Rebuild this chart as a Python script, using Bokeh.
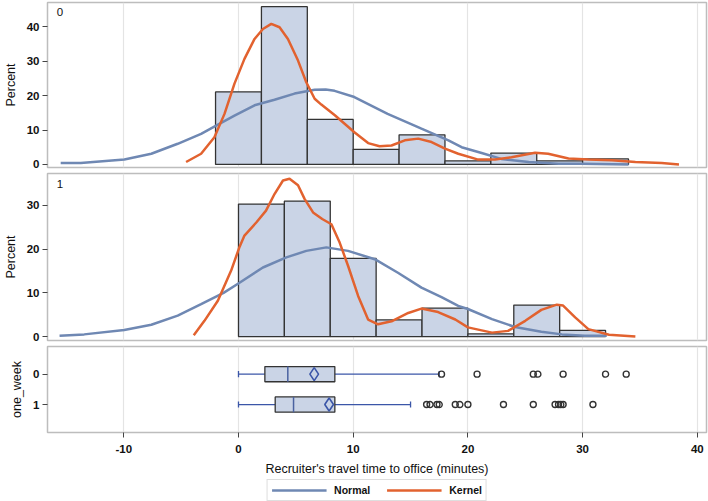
from bokeh.plotting import figure
from bokeh.layouts import column
from bokeh.models import Range1d, Legend, LegendItem, Label
from bokeh.embed import file_html
from bokeh.resources import INLINE

# ---------------- data ----------------
x_ticks = [-10, 0, 10, 20, 30, 40]
x_tick_labels = ["-10", "0", "10", "20", "30", "40"]

# group 0 histogram (percent per 4-minute bin)
top_edges = [-2, 2, 6, 10, 14, 18, 22, 26, 30, 34]
top_pct = [21.1, 45.9, 13.1, 4.4, 8.6, 1.0, 3.3, 1.0, 1.6]

# group 1 histogram
mid_edges = [0, 4, 8, 12, 16, 20, 24, 28, 32]
mid_pct = [30.3, 31.0, 17.9, 3.8, 6.5, 0.6, 7.2, 1.4]

# fitted curves
top_norm_x = [-15.5, -13.75, -9.95, -7.6, -5.3, -3.26, -1.95, -0.35, 1.4, 3.14, 4.89, 6.64, 7.6,
              8.38, 10.1, 13.0, 15.95, 18.3, 19.45, 21.2, 22.9, 25.3, 27.9, 29.9, 34.0]
top_norm_y = [0.4, 0.4, 1.4, 3.1, 6.0, 8.9, 11.3, 14.2, 17.2, 18.8, 20.6, 21.7, 21.8,
              21.4, 19.6, 14.7, 10.4, 7.0, 5.0, 3.3, 1.6, 0.7, 0.2, 0.2, 0.0]
top_kern_x = [-4.57, -3.26, -2.1, -1.22, -0.35, 0.52, 1.4, 2.13, 2.86, 3.58, 4.31, 5.19, 5.91,
              6.64, 7.22, 8.4, 10.13, 11.3, 12.3, 13.34, 14.5, 15.67, 16.83, 18.0, 19.16, 20.9,
              22.36, 23.8, 25.85, 27.0, 28.77, 30.5, 32.55, 34.6, 36.9, 38.4]
top_kern_y = [0.7, 3.1, 7.9, 14.7, 23.5, 30.7, 36.5, 39.4, 40.9, 39.9, 36.5, 30.2, 23.9,
              19.1, 17.4, 14.3, 9.3, 6.2, 5.3, 5.5, 7.0, 7.5, 6.5, 4.6, 3.1, 1.4,
              1.4, 2.1, 3.4, 3.1, 1.7, 1.4, 1.2, 0.7, 0.4, 0.0]

mid_norm_x = [-15.6, -13.45, -9.96, -7.6, -5.3, -3.26, -1.3, 0.09, 2.13, 4.17, 5.91, 7.66, 9.55,
              11.88, 13.9, 15.95, 17.7, 19.16, 20.0, 22.1, 24.1, 26.4, 28.2, 30.2, 32.1]
mid_norm_y = [0.2, 0.5, 1.5, 2.7, 4.8, 7.4, 10.0, 12.3, 15.8, 18.1, 19.6, 20.4, 19.6,
              17.7, 14.6, 11.2, 9.0, 7.0, 6.3, 4.0, 2.2, 1.1, 0.5, 0.2, 0.2]
mid_kern_x = [-3.9, -2.97, -1.8, -0.64, 0.09, 0.52, 1.55, 2.4, 3.14, 3.88, 4.45, 5.19, 5.76,
              6.5, 7.3, 8.1, 8.82, 9.55, 10.43, 11.3, 12.17, 13.34, 14.8, 15.95, 17.4, 18.9,
              20.0, 22.1, 23.5, 25.0, 26.4, 27.75, 28.3, 29.35, 30.5, 32.3, 34.6]
mid_kern_y = [0.3, 3.6, 8.2, 15.1, 20.5, 23.1, 26.1, 28.8, 32.6, 35.7, 36.1, 34.6, 31.5,
              28.4, 26.9, 25.7, 21.5, 16.2, 9.3, 3.9, 2.8, 3.5, 5.4, 6.4, 5.6, 3.9,
              2.1, 0.9, 1.3, 3.6, 6.1, 7.3, 7.1, 4.4, 1.7, 0.4, 0.0]

# box plot statistics by one_week group
groups = ["0", "1"]
box_lo = [0.0, 0.0]
box_q1 = [2.3, 3.2]
box_med = [4.3, 4.8]
box_mean = [6.6, 7.9]
box_q3 = [8.4, 8.4]
box_hi = [17.5, 15.0]
outliers = [
    [17.7, 20.8, 25.7, 26.1, 28.3, 32.0, 33.8],
    [16.4, 16.7, 17.3, 17.5, 18.9, 19.3, 20.0, 23.1, 25.7, 27.6, 27.9, 28.1, 28.3, 30.9],
]

# ---------------- style ----------------
FONT = "Liberation Sans"
FILL = "#CAD4E6"
EDGE = "#333333"
NORM = "#6F88B3"
KERN = "#E2622F"
WHISK = "#3B56A8"
FRAME = "#BDBDBD"
GRID = "#E4E4E4"
LEFT = 47
RIGHT = 2
W = 708

x_range = Range1d(-16.65, 40.8)


def style(p):
    p.outline_line_color = FRAME
    p.outline_line_width = 1.5
    p.xgrid.ticker = x_ticks
    p.xgrid.grid_line_color = GRID
    p.xgrid.grid_line_width = 1.2
    p.ygrid.visible = False
    for ax in p.yaxis:
        ax.axis_line_color = None
        ax.major_tick_line_color = "#444444"
        ax.minor_tick_line_color = None
        ax.major_tick_out = 5
        ax.major_tick_in = 0
        ax.major_label_text_font = FONT
        ax.major_label_text_font_size = "11.5px"
        ax.major_label_text_font_style = "bold"
        ax.major_label_text_color = "#111111"
        ax.major_label_standoff = 3
        ax.axis_label_text_font = FONT
        ax.axis_label_text_font_size = "12.5px"
        ax.axis_label_text_font_style = "normal"
        ax.axis_label_text_color = "#111111"
        ax.axis_label_standoff = 6


def hist_panel(edges, pct, nx, ny, kx, ky, y_end, yticks, tag, height, top):
    p = figure(width=W, height=height, x_range=x_range, y_range=Range1d(-0.9, y_end),
               x_axis_location=None, output_backend="svg", toolbar_location=None,
               min_border_left=LEFT, min_border_right=RIGHT, min_border_top=top,
               min_border_bottom=3)
    p.quad(left=edges[:-1], right=edges[1:], bottom=0, top=pct,
           fill_color=FILL, line_color=EDGE, line_width=1.3)
    p.line(nx, ny, line_color=NORM, line_width=2.5)
    p.line(kx, ky, line_color=KERN, line_width=2.5)
    p.yaxis.ticker = yticks
    p.yaxis.axis_label = "Percent"
    p.add_layout(Label(x=-15.85, y=y_end - 1.6, text=tag, text_font=FONT,
                       text_font_size="11.5px", text_baseline="top", text_color="#111111"))
    style(p)
    return p


p1 = hist_panel(top_edges, top_pct, top_norm_x, top_norm_y, top_kern_x, top_kern_y,
                47.1, [0, 10, 20, 30, 40], "0", 170, 2)
p2 = hist_panel(mid_edges, mid_pct, mid_norm_x, mid_norm_y, mid_kern_x, mid_kern_y,
                37.3, [0, 10, 20, 30], "1", 173, 3)

# ---------------- box plot panel ----------------
p3 = figure(width=W, height=135, x_range=x_range, y_range=Range1d(1.92, -0.91),
            output_backend="svg", toolbar_location=None,
            min_border_left=LEFT, min_border_right=RIGHT, min_border_top=3, min_border_bottom=0)
ypos = list(range(len(groups)))
cap = 0.1
p3.segment(x0=box_lo, y0=ypos, x1=box_q1, y1=ypos, line_color=WHISK, line_width=1.3)
p3.segment(x0=box_q3, y0=ypos, x1=box_hi, y1=ypos, line_color=WHISK, line_width=1.3)
p3.segment(x0=box_lo, y0=[y - cap for y in ypos], x1=box_lo, y1=[y + cap for y in ypos],
           line_color=WHISK, line_width=1.3)
p3.segment(x0=box_hi, y0=[y - cap for y in ypos], x1=box_hi, y1=[y + cap for y in ypos],
           line_color=WHISK, line_width=1.3)
p3.hbar(y=ypos, left=box_q1, right=box_q3, height=0.5, fill_color=FILL,
        line_color=EDGE, line_width=1.3)
p3.segment(x0=box_med, y0=[y - 0.25 for y in ypos], x1=box_med, y1=[y + 0.25 for y in ypos],
           line_color="#4A62A0", line_width=1.5)
p3.scatter(box_mean, ypos, marker="diamond", size=13, fill_alpha=0,
           line_color=WHISK, line_width=1.6)
ox, oy = [], []
for g, vals in zip(ypos, outliers):
    for v in vals:
        ox.append(v)
        oy.append(g)
p3.scatter(ox, oy, marker="circle", size=6, fill_alpha=0, line_color="#333333", line_width=1.4)

p3.yaxis.ticker = ypos
p3.yaxis.major_label_overrides = {i: g for i, g in enumerate(groups)}
p3.yaxis.axis_label = "one_week"
p3.xaxis.ticker = x_ticks
p3.xaxis.major_label_overrides = dict(zip(x_ticks, x_tick_labels))
p3.xaxis.axis_label = "Recruiter's travel time to office (minutes)"
xa = p3.xaxis[0]
xa.axis_line_color = None
xa.major_tick_line_color = "#444444"
xa.minor_tick_line_color = None
xa.major_tick_out = 5
xa.major_tick_in = 0
xa.major_label_text_font = FONT
xa.major_label_text_font_size = "11.5px"
xa.major_label_text_font_style = "bold"
xa.major_label_text_color = "#111111"
xa.major_label_standoff = 7
xa.axis_label_text_font = FONT
xa.axis_label_text_font_size = "12.5px"
xa.axis_label_text_font_style = "normal"
xa.axis_label_text_color = "#111111"
xa.axis_label_standoff = 6
style(p3)

# ---------------- legend strip ----------------
p4 = figure(width=W, height=23, x_range=Range1d(0, 1), y_range=Range1d(0, 1),
            x_axis_location=None, y_axis_location=None, output_backend="svg",
            toolbar_location=None, min_border_left=LEFT, min_border_right=RIGHT,
            min_border_top=0, min_border_bottom=0)
p4.outline_line_color = None
p4.xgrid.visible = False
p4.ygrid.visible = False
nan = float("nan")
rn = p4.line(x=[nan], y=[nan], line_color=NORM, line_width=2.5)
rk = p4.line(x=[nan], y=[nan], line_color=KERN, line_width=2.5)
legend = Legend(items=[LegendItem(label="Normal", renderers=[rn]),
                       LegendItem(label="Kernel", renderers=[rk])],
                orientation="horizontal", location="center",
                label_text_font=FONT, label_text_font_size="10.5px",
                label_text_font_style="bold", label_text_color="#111111",
                glyph_width=55, glyph_height=12, label_standoff=8, spacing=16,
                padding=4, margin=0, border_line_color=FRAME, border_line_width=1.2)
p4.add_layout(legend)

layout = column(p1, p2, p3, p4, spacing=0)
open("out.html", "w").write(file_html(layout, INLINE))
